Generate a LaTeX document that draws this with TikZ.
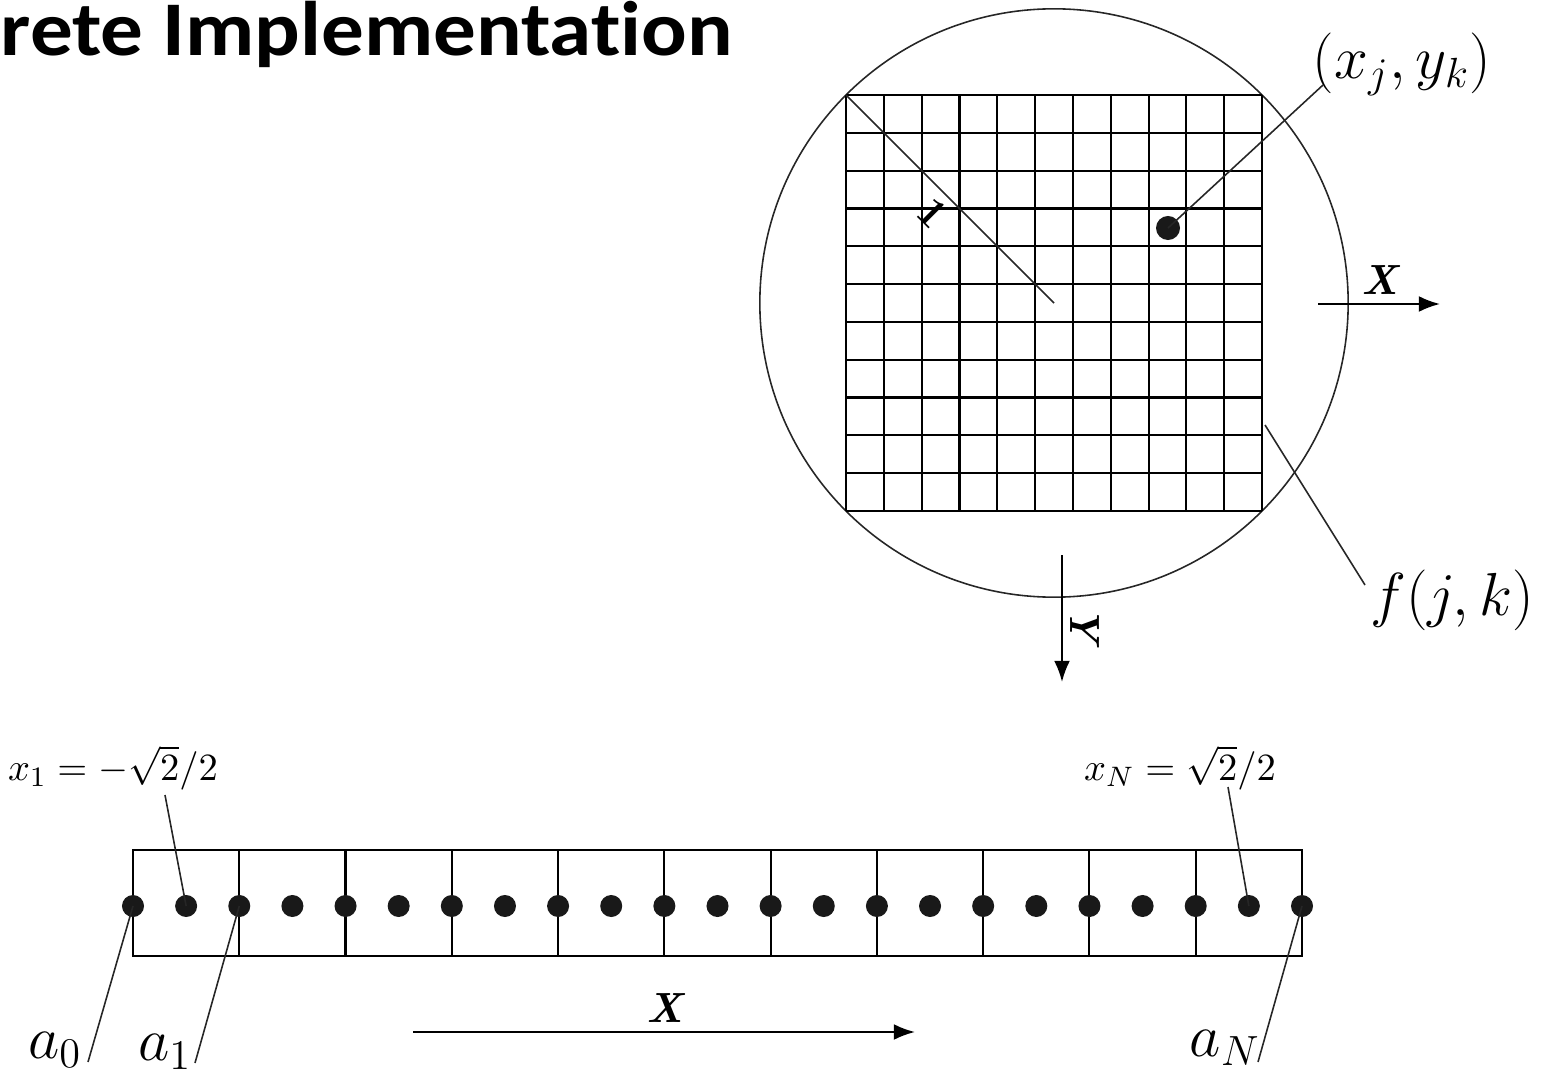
\documentclass[tikz,border=0pt]{standalone}
\usepackage{fontspec}
\newfontfamily\titlefont[Ligatures=NoCommon]{Carlito}
\usetikzlibrary{arrows.meta}
\tikzset{
  gridline/.style={line width=0.6pt},
  thinline/.style={line width=0.45pt,black!85},
  axisline/.style={line width=0.6pt,-{Latex[length=6pt,width=4.5pt]}},
  bigmath/.style={font=\fontsize{18}{22}\selectfont},
  midmath/.style={font=\fontsize{17}{20}\selectfont},
  smallmath/.style={font=\fontsize{11}{13}\selectfont},
  axislabel/.style={font=\fontsize{12}{14}\selectfont\bfseries\itshape},
}
\begin{document}
\begin{tikzpicture}[x=0.01cm,y=-0.01cm]
  \useasboundingbox (0,0) rectangle (1548,1085);
  \node[anchor=base west,inner sep=0pt,xscale=1.1,font=\titlefont\bfseries\fontsize{22}{26}\selectfont] (title) at (0,56) {rete Implementation};

  % disc with the sampled square
  \coordinate (O) at (1054,303);
  \draw[thinline] (O) circle[radius=2.94cm];
  \foreach \i in {0,...,11} {
    \draw[gridline] (846+\i*37.818,95) -- (846+\i*37.818,511);
    \draw[gridline] (846,95+\i*37.818) -- (1262,95+\i*37.818);
  }
  \coordinate (TL) at (846,95);
  \draw[thinline] (TL) -- (O);
  \node[rotate=-45,font=\bfseries\large] (one) at (933,213) {1};

  \coordinate (P) at (1168,228);
  \fill[black!90] (P) circle[radius=0.12cm];
  \node[bigmath] (xy) at (1402,64) {$\bigl(x_j,y_k\bigr)$};
  \coordinate (xyend) at (1323,85);
  \draw[thinline] (P) -- (xyend);

  \coordinate (fs) at (1265,425);
  \coordinate (fe) at (1365,585);
  \draw[thinline] (fs) -- (fe);
  \node[bigmath] (fjk) at (1452,600) {$f\bigl(j,k\bigr)$};

  \coordinate (xs) at (1318,304);
  \coordinate (xe) at (1440,304);
  \draw[axisline] (xs) -- (xe);
  \node[axislabel] (X1) at (1380,280) {X};
  \coordinate (ys) at (1062,555);
  \coordinate (ye) at (1062,682);
  \draw[axisline] (ys) -- (ye);
  \node[axislabel,rotate=-90] (Y1) at (1085,625) {Y};

  % one row of samples
  \draw[gridline] (133,850) rectangle (1302,956);
  \foreach \i in {1,...,10}
    \draw[gridline] (133+\i*106.27,850) -- (133+\i*106.27,956);
  \foreach \k in {0,...,22} {
    \coordinate (d\k) at (133+\k*53.136,906);
    \fill[black!90] (d\k) circle[radius=0.11cm];
  }
  \node[smallmath] (xfirst) at (113,768) {$x_1=-\sqrt{2}\big/2$};
  \node[smallmath] (xlast) at (1180,768) {$x_N=\sqrt{2}\big/2$};
  \coordinate (xf) at (165,795);
  \coordinate (xl) at (1228,787);
  \draw[thinline] (xf) -- (d1);
  \draw[thinline] (xl) -- (d21);

  \node[midmath] (a0) at (55,1050) {$a_0$};
  \node[midmath] (a1) at (165,1052) {$a_1$};
  \node[midmath] (aN) at (1225,1048) {$a_N$};
  \coordinate (a0e) at (88,1062);
  \coordinate (a1e) at (195,1063);
  \coordinate (aNe) at (1258,1062);
  \draw[thinline] (a0e) -- (d0);
  \draw[thinline] (a1e) -- (d2);
  \draw[thinline] (aNe) -- (d22);

  \coordinate (bs) at (413,1032);
  \coordinate (be) at (915,1032);
  \draw[axisline] (bs) -- (be);
  \node[axislabel] (X2) at (665,1008) {X};
\end{tikzpicture}
\end{document}
